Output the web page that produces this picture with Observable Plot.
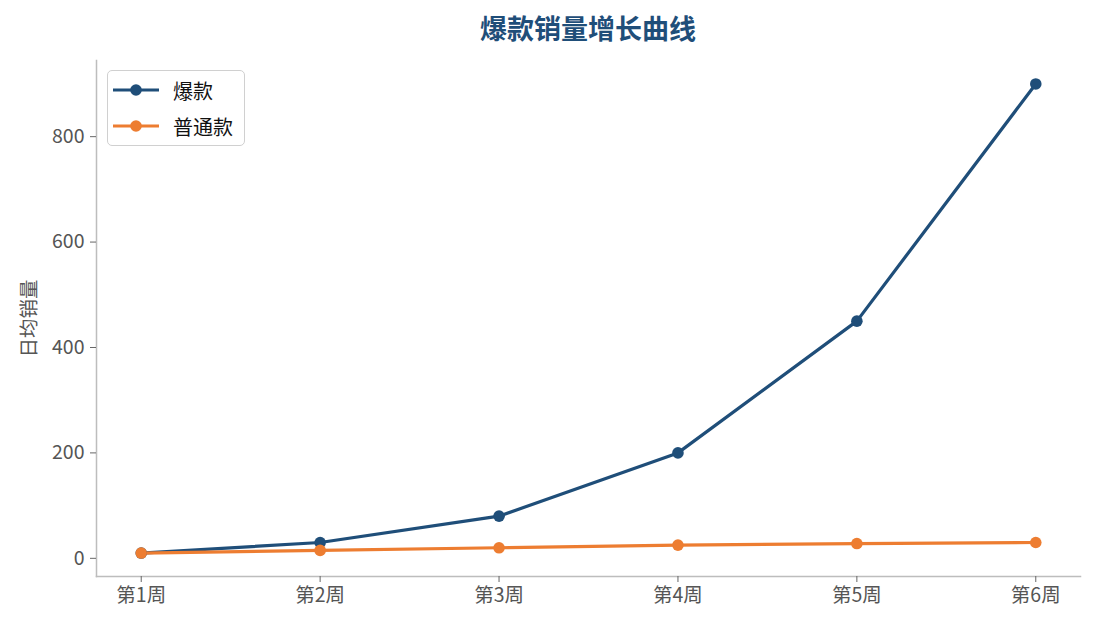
<!DOCTYPE html>
<html><head><meta charset="utf-8">
<script src="https://cdn.jsdelivr.net/npm/d3@7"></script>
<script src="https://cdn.jsdelivr.net/npm/@observablehq/plot@0.6"></script>
<style>
body{margin:0;background:#fff;font-family:"Noto Sans CJK SC","Noto Sans",sans-serif;}
#wrap{position:relative;width:1095px;height:629px;overflow:hidden;}
#title{position:absolute;left:96px;width:984px;top:11px;text-align:center;font-size:27px;line-height:34px;font-weight:bold;color:#1f4e79;}
#chart{position:absolute;left:0;top:50px;}
#legend{position:absolute;left:107px;top:70px;width:136px;height:74px;border:1.5px solid #d0d0d0;border-radius:5px;background:rgba(255,255,255,0.9);}
.row{position:absolute;left:0;height:30px;display:flex;align-items:center;font-size:20px;color:#111;}
.row svg{margin-left:5px;margin-right:14px;}
</style></head>
<body>
<div id="wrap">
  <div id="title"></div>
  <div id="chart"></div>
  <div id="legend"></div>
</div>
<script>
const titleText = "爆款销量增长曲线";
const yLabel = "日均销量";
const weeks = ["第1周","第2周","第3周","第4周","第5周","第6周"];
const hitSales = [10, 30, 80, 200, 450, 900];
const normalSales = [10, 15, 20, 25, 28, 30];
const seriesNames = ["爆款", "普通款"];
const seriesColors = ["#1f4e79", "#ed7d31"];
const yTicks = [0, 200, 400, 600, 800];
const yDomain = [-34.5, 944.5];

document.getElementById("title").textContent = titleText;

const seriesValues = [hitSales, normalSales];
const rows = seriesNames.flatMap((s, k) => weeks.map((w, i) => ({week: w, value: seriesValues[k][i], series: s})));

const chart = Plot.plot({
  width: 1095, height: 579,
  marginLeft: 96, marginRight: 15, marginTop: 10, marginBottom: 53,
  style: {fontFamily: '"Noto Sans CJK SC","Noto Sans",sans-serif', fontSize: "19.5px", color: "#555", background: "#fff"},
  x: {type: "point", domain: weeks, padding: 0.25, round: false},
  y: {domain: yDomain},
  color: {domain: seriesNames, range: seriesColors},
  marks: [
    Plot.frame({anchor: "left", stroke: "#bdbdbd", strokeWidth: 1.5}),
    Plot.frame({anchor: "bottom", stroke: "#bdbdbd", strokeWidth: 1.5}),
    Plot.axisX({tickSize: 6, tickPadding: 6, stroke: "#666", fill: "#555", label: null}),
    Plot.axisY({ticks: yTicks, tickSize: 6, tickPadding: 6, stroke: "#666", fill: "#555",
      label: yLabel, labelAnchor: "center", labelArrow: "none", labelOffset: 74}),
    Plot.line(rows, {x: "week", y: "value", z: "series", stroke: "series", strokeWidth: 3.2}),
    Plot.dot(rows, {x: "week", y: "value", fill: "series", r: 5.8})
  ]
});
document.getElementById("chart").appendChild(chart);

const legend = document.getElementById("legend");
seriesNames.forEach((s, k) => {
  const row = document.createElement("div");
  row.className = "row";
  row.style.top = (4 + k * 36) + "px";
  row.innerHTML = `<svg width="46" height="14"><line x1="0" x2="46" y1="7" y2="7" stroke="${seriesColors[k]}" stroke-width="3.2"/><circle cx="23" cy="7" r="5.8" fill="${seriesColors[k]}"/></svg><span>${s}</span>`;
  legend.appendChild(row);
});
</script>
</body></html>
